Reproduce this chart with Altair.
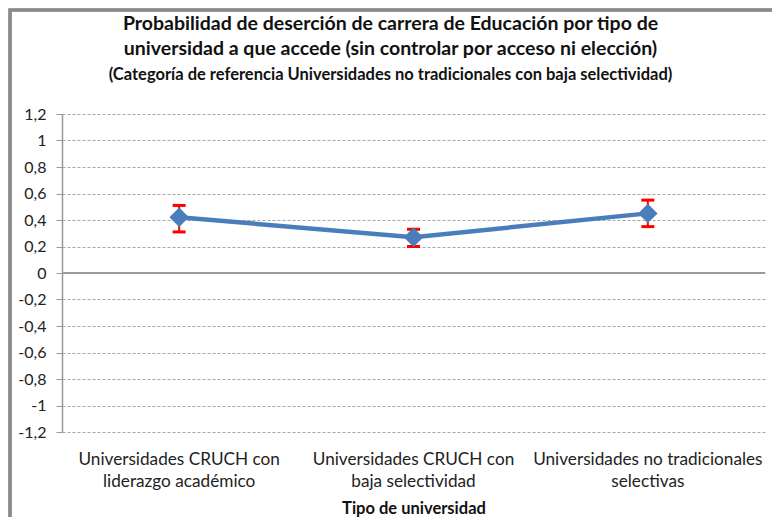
import altair as alt
import pandas as pd

categorias = [
    "Universidades CRUCH con|liderazgo académico",
    "Universidades CRUCH con|baja selectividad",
    "Universidades no tradicionales|selectivas",
]
probabilidad = [0.42, 0.27, 0.45]
limite_inferior = [0.31, 0.20, 0.35]
limite_superior = [0.51, 0.33, 0.55]
ticks_y = [-1.2, -1.0, -0.8, -0.6, -0.4, -0.2, 0.0, 0.2, 0.4, 0.6, 0.8, 1.0, 1.2]

df = pd.DataFrame({
    "cat": categorias,
    "p": probabilidad,
    "lo": limite_inferior,
    "hi": limite_superior,
})

FONT = "Lato"
W, H = 703, 318

x_enc = alt.X(
    "cat:N",
    sort=categorias,
    scale=alt.Scale(paddingInner=0, paddingOuter=0, align=0.5),
    axis=alt.Axis(
        title="Tipo de universidad",
        labelExpr="split(datum.label, '|')",
        labelAngle=0,
        labelFontSize=17.2,
        labelLineHeight=22,
        labelColor="#222",
        labelPadding=18,
        labelLimit=400,
        labelOverlap=False,
        titleFontSize=16.5,
        titleFontWeight="bold",
        titleColor="#111",
        titlePadding=11,
        domain=False,
        ticks=False,
        grid=False,
        labelFont=FONT,
        titleFont=FONT,
    ),
)

y_scale = alt.Scale(domain=[-1.2, 1.2], nice=False, zero=False)
y_axis = alt.Axis(
    values=ticks_y,
    labelExpr="replace(replace(format(datum.value, '~r'), '.', ','), '\u2212', '-')",
    title=None,
    labelFontSize=16,
    labelColor="#222",
    labelFont=FONT,
    labelPadding=10,
    labelOverlap=False,
    tickSize=6,
    tickColor="#999",
    domainColor="#999",
    domainWidth=1.5,
    grid=True,
    gridColor="#a6a6a6",
    gridDash=[3, 2],
    gridWidth=1,
)

base = alt.Chart(df)

frame = base.mark_rect(fill=None, stroke="#8a8a8a", strokeWidth=3).encode(
    x=alt.value(-52), x2=alt.value(W + 9), y=alt.value(-104), y2=alt.value(H + 120)
)

zero = base.mark_rule(color="#9a9a9a", strokeWidth=1.5).encode(
    y=alt.datum(0, scale=y_scale, axis=y_axis)
)

line = base.mark_line(color="#4a7ebb", strokeWidth=4.5).encode(
    x=x_enc, y=alt.Y("p:Q", scale=y_scale, axis=y_axis)
)

err = base.mark_rule(color="#ff0000", strokeWidth=2).encode(
    x=x_enc, y=alt.Y("lo:Q", scale=y_scale, axis=y_axis), y2="hi:Q"
)
cap_lo = base.mark_tick(color="#ff0000", thickness=3, size=13, opacity=1).encode(
    x=x_enc, y=alt.Y("lo:Q", scale=y_scale, axis=y_axis)
)
cap_hi = base.mark_tick(color="#ff0000", thickness=3, size=13, opacity=1).encode(
    x=x_enc, y=alt.Y("hi:Q", scale=y_scale, axis=y_axis)
)

pts = base.mark_point(shape="diamond", filled=True, size=380, color="#4a7ebb", opacity=1).encode(
    x=x_enc, y=alt.Y("p:Q", scale=y_scale, axis=y_axis)
)

chart = (
    alt.layer(frame, zero, err, line, cap_lo, cap_hi, pts)
    .properties(
        width=W,
        height=H,
        autosize=alt.AutoSizeParams(type="none"),
        padding={"left": 54, "top": 106, "right": 7, "bottom": 85},
        title=alt.TitleParams(
            text=[
                "Probabilidad de deserción de carrera de Educación por tipo de",
                "universidad a que accede (sin controlar por acceso ni elección)",
            ],
            subtitle="(Categoría de referencia Universidades no tradicionales con baja selectividad)",
            anchor="middle",
            dx=-23,
            dy=76,
            offset=0,
            font=FONT,
            fontSize=19.5,
            fontWeight="bold",
            lineHeight=25,
            color="#111",
            subtitleFont=FONT,
            subtitleFontSize=16.5,
            subtitleFontWeight="bold",
            subtitleColor="#111",
            subtitlePadding=8,
        ),
    )
    .configure_view(stroke=None)
)

chart.save("out.html", embed_options={"renderer": "svg", "actions": False})
